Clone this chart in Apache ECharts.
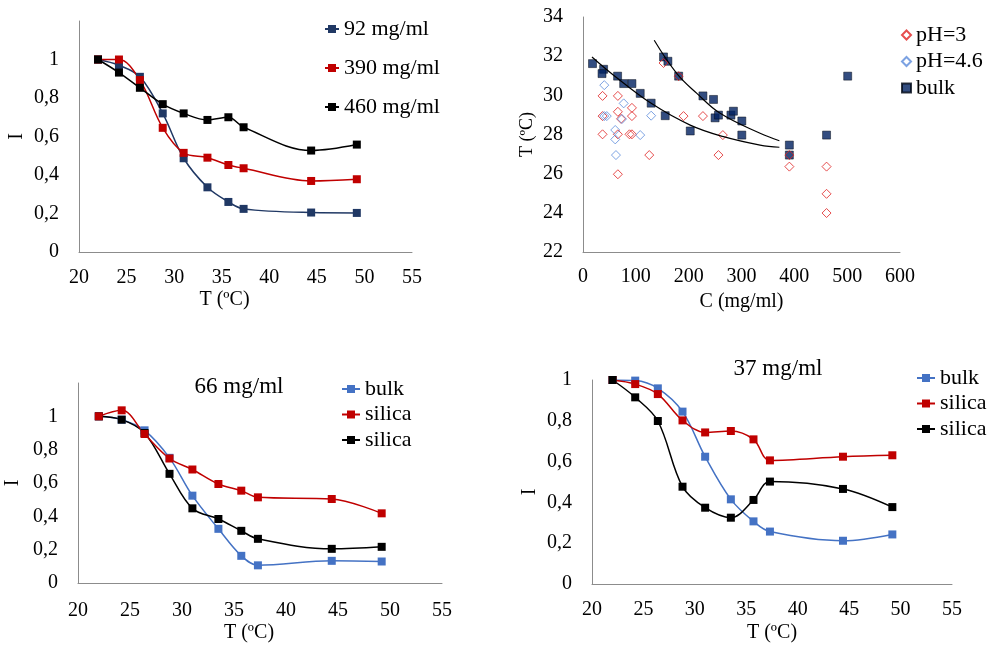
<!DOCTYPE html>
<html><head><meta charset="utf-8">
<script src="https://cdn.jsdelivr.net/npm/echarts@6/dist/echarts.min.js"></script>
<style>html,body{margin:0;padding:0;background:#fff}#c{width:995px;height:647px}</style>
</head><body><div id="c"></div>
<script>
// ---------- shared temperature axis (°C) ----------
const T = [22, 24.2, 26.4, 28.8, 31, 33.5, 35.7, 37.3, 44.4, 49.2];
// ---------- panel A: I vs T ----------
const a92  = [1.0, 0.97, 0.91, 0.72, 0.487, 0.336, 0.26, 0.224, 0.205, 0.203];
const a390 = [1.0, 1.0, 0.893, 0.645, 0.515, 0.49, 0.452, 0.435, 0.369, 0.378];
const a460 = [1.0, 0.932, 0.853, 0.768, 0.72, 0.686, 0.70, 0.648, 0.527, 0.558];
// ---------- panel B: T vs C ----------
const bulkC = [18, 39, 36, 65.5, 77, 92.6, 108.3, 129, 155.6, 152.4, 160.7, 181, 203, 227, 247, 250, 256.4, 280, 284.7, 300.6, 300.6, 390.6, 390.6, 461, 501];
const bulkT = [31.62, 31.33, 31.11, 30.98, 30.6, 30.6, 30.1, 29.6, 28.96, 31.96, 31.74, 30.98, 28.18, 29.97, 29.79, 28.85, 28.99, 28.99, 29.19, 28.69, 27.97, 27.46, 26.95, 27.97, 30.98];
const pH3C = [37, 37, 37, 66, 66, 66, 66, 72, 92.6, 92.6, 92.6, 88, 125.4, 152.4, 181, 190.3, 227, 256.4, 264.7, 390.6, 390.6, 461, 461, 461];
const pH3T = [29.97, 28.94, 28.01, 29.97, 29.16, 28.01, 25.97, 28.8, 29.36, 28.94, 28.01, 28.01, 26.95, 31.65, 30.98, 28.94, 28.94, 26.95, 27.97, 26.95, 26.36, 26.36, 24.97, 23.99];
const pH46C = [40.3, 40.3, 45, 77, 73.7, 61, 61, 62.4, 108.3, 129];
const pH46T = [30.52, 28.94, 28.94, 29.59, 28.79, 28.23, 27.75, 26.95, 27.97, 28.96];
const trend1C = [17, 57.9, 129.1, 202.9, 265.9, 335.2, 371.7];
const trend1T = [31.96, 31.03, 29.59, 28.48, 27.89, 27.46, 27.35];
const trend2C = [134.8, 177.7, 215.5, 259.6, 335.2, 371.7];
const trend2T = [32.81, 31.11, 30.1, 29.08, 28.06, 27.68];
// ---------- panel C: 66 mg/ml ----------
const c_bulk = [1.0, 0.98, 0.916, 0.751, 0.524, 0.325, 0.163, 0.106, 0.133, 0.129];
const c_sil1 = [1.0, 1.036, 0.894, 0.747, 0.681, 0.594, 0.554, 0.514, 0.504, 0.418];
const c_sil2 = [1.0, 0.98, 0.9, 0.655, 0.448, 0.384, 0.313, 0.265, 0.205, 0.217];
// ---------- panel D: 37 mg/ml ----------
const d_bulk = [1.0, 0.997, 0.959, 0.845, 0.624, 0.415, 0.307, 0.257, 0.212, 0.243];
const d_sil1 = [1.0, 0.98, 0.931, 0.802, 0.743, 0.75, 0.709, 0.606, 0.624, 0.631];
const d_sil2 = [1.0, 0.915, 0.799, 0.477, 0.374, 0.325, 0.412, 0.502, 0.466, 0.377];

const FONT = '"Liberation Serif", "Times New Roman", serif';
const AX = '#8c8c8c';
const fmt = v => String(Math.round(v * 10) / 10).replace('.', ',');
const zip = (xs, ys) => xs.map((x, i) => [x, ys[i]]);

function xAx(grid, min, max, step, name, gap, margin, pad) {
  return {
    type: 'value', gridIndex: grid, min, max, interval: step,
    name, nameLocation: 'middle', nameGap: gap,
    nameTextStyle: { fontFamily: FONT, fontSize: 20, color: '#000', padding: pad || 0 },
    axisLine: { show: true, lineStyle: { color: AX, width: 1 } },
    axisTick: { show: false }, splitLine: { show: false },
    axisLabel: { fontFamily: FONT, fontSize: 20, color: '#000', margin }
  };
}
function yAx(grid, min, max, step, name, gap, nameSize, hideMax, pad) {
  return {
    type: 'value', gridIndex: grid, min, max, interval: step,
    name, nameLocation: 'middle', nameGap: gap,
    nameTextStyle: { fontFamily: FONT, fontSize: nameSize, color: '#000', padding: pad || 0 },
    axisLine: { show: true, lineStyle: { color: AX, width: 1 } },
    axisTick: { show: false }, splitLine: { show: false },
    axisLabel: { fontFamily: FONT, fontSize: 20, color: '#000', margin: 20, formatter: fmt, showMaxLabel: !hideMax }
  };
}
function lineS(name, grid, ys, color) {
  return {
    type: 'line', name, xAxisIndex: grid, yAxisIndex: grid,
    data: zip(T, ys), smooth: 0.35, symbol: 'rect', symbolSize: 8,
    lineStyle: { color, width: 1.5 }, itemStyle: { color },
    emphasis: { disabled: true }
  };
}
function legend(left, top, names, gap, w, h) {
  return {
    left, top, padding: 0, orient: 'vertical', itemGap: gap, itemWidth: w, itemHeight: h,
    textStyle: { fontFamily: FONT, fontSize: 22, color: '#000' }, data: names,
    selectedMode: false
  };
}

const NAVY = '#203864', RED = '#C00000', BLK = '#000000', BLUE = '#4472C4';

const option = {
  animation: false,
  backgroundColor: '#fff',
  grid: [
    { left: 79, top: 21, width: 333, height: 231 },
    { left: 583, top: 17, width: 317, height: 235 },
    { left: 78, top: 383, width: 364, height: 200 },
    { left: 592, top: 380, width: 360, height: 204 }
  ],
  xAxis: [
    xAx(0, 20, 55, 5, 'T (ºC)', 38, 16, [0, 42, 0, 0]),
    xAx(1, 0, 600, 100, 'C (mg/ml)', 40, 15),
    xAx(2, 20, 55, 5, 'T (ºC)', 40, 18, [0, 22, 0, 0]),
    xAx(3, 20, 55, 5, 'T (ºC)', 39, 16)
  ],
  yAxis: [
    yAx(0, 0, 1.2, 0.2, 'I', 52, 20, true),
    yAx(1, 22, 34, 2, 'T (ºC)', 47, 18, false),
    yAx(2, 0, 1.2, 0.2, 'I', 55, 20, true),
    yAx(3, 0, 1, 0.2, 'I', 52, 20, false, [0, 20, 0, 0])
  ],
  legend: [
    legend(324, 18, ['92 mg/ml', '390 mg/ml', '460 mg/ml'], 17, 14, 10),
    legend(901, 24, ['pH=3', 'pH=4.6', 'bulk'], 4.5, 9, 9),
    legend(341, 378, ['bulk ', 'silica', 'silica '], 3.5, 18, 10),
    legend(916, 367, ['bulk  ', 'silica  ', 'silica   '], 3.5, 18, 10)
  ],
  graphic: [
    { type: 'text', x: 239, y: 387, style: { text: '66 mg/ml', font: '23px ' + FONT, fill: '#000', align: 'center', verticalAlign: 'middle' } },
    { type: 'text', x: 778, y: 369, style: { text: '37 mg/ml', font: '23px ' + FONT, fill: '#000', align: 'center', verticalAlign: 'middle' } }
  ],
  series: [
    lineS('92 mg/ml', 0, a92, NAVY),
    lineS('390 mg/ml', 0, a390, RED),
    lineS('460 mg/ml', 0, a460, BLK),

    { type: 'scatter', name: 'bulk', xAxisIndex: 1, yAxisIndex: 1, data: zip(bulkC, bulkT),
      symbol: 'rect', symbolSize: 8, itemStyle: { color: '#002060', borderColor: '#000814', borderWidth: 0.6 } },
    { type: 'scatter', name: 'pH=3', xAxisIndex: 1, yAxisIndex: 1, data: zip(pH3C, pH3T),
      symbol: 'diamond', symbolSize: 9, itemStyle: { color: 'rgba(255,255,255,0)', borderColor: '#E02020', borderWidth: 1 } },
    { type: 'scatter', name: 'pH=4.6', xAxisIndex: 1, yAxisIndex: 1, data: zip(pH46C, pH46T),
      symbol: 'diamond', symbolSize: 9, itemStyle: { color: 'rgba(255,255,255,0)', borderColor: '#5B8BDB', borderWidth: 1 } },
    { type: 'line', name: 'trend1', xAxisIndex: 1, yAxisIndex: 1, data: zip(trend1C, trend1T),
      smooth: 0.4, symbol: 'none', lineStyle: { color: '#000', width: 1.2 } },
    { type: 'line', name: 'trend2', xAxisIndex: 1, yAxisIndex: 1, data: zip(trend2C, trend2T),
      smooth: 0.4, symbol: 'none', lineStyle: { color: '#000', width: 1.2 } },

    lineS('bulk ', 2, c_bulk, BLUE),
    lineS('silica ', 2, c_sil2, BLK),
    lineS('silica', 2, c_sil1, RED),

    lineS('bulk  ', 3, d_bulk, BLUE),
    lineS('silica  ', 3, d_sil1, RED),
    lineS('silica   ', 3, d_sil2, BLK)
  ]
};
const chart = echarts.init(document.getElementById('c'), null, { renderer: 'canvas' });
chart.setOption(option);
</script>
</body></html>
